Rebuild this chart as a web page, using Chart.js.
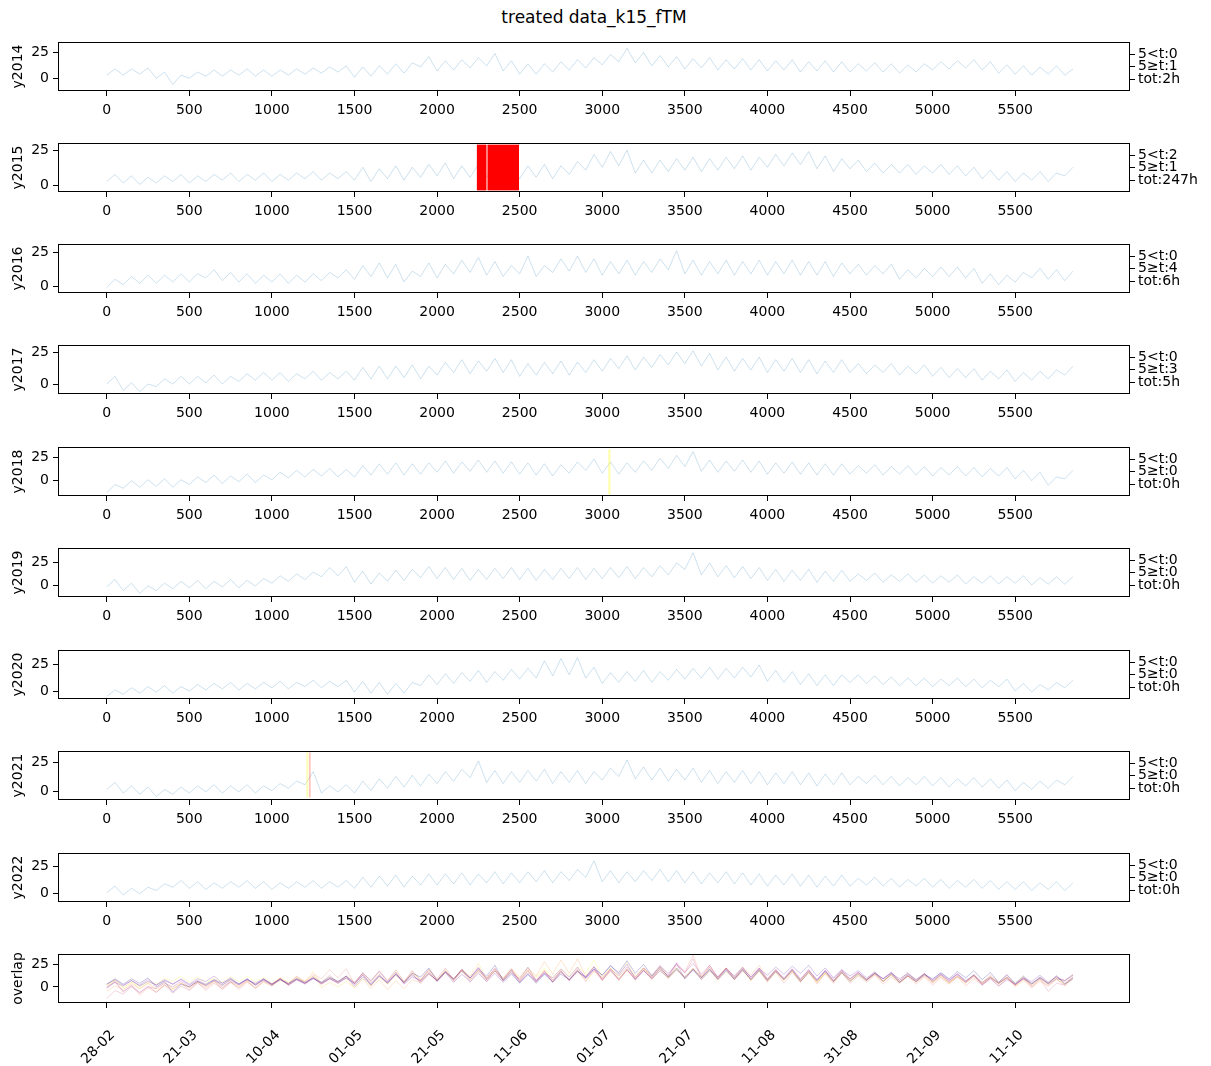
<!DOCTYPE html>
<html>
<head>
<meta charset="utf-8">
<script src="https://cdn.jsdelivr.net/npm/chart.js@4.4.1/dist/chart.umd.min.js"></script>
<style>
  body { margin: 0; background: #fff; }
  #fig { position: relative; width: 1211px; height: 1066px; overflow: hidden; background: #fff; }
  #title { position: absolute; top: 7px; left: 594px; transform: translateX(-50%); font: 17px "DejaVu Sans"; white-space: nowrap; color: #000; }
  canvas { position: absolute; left: 0; }
</style>
</head>
<body>
<div id="fig"><div id="title">treated data_k15_fTM</div></div>
<script>
// temperature readings, alternating daily low / high, one value every 50 h of the hourly index
const step = 50;
const t2014 = [3,9,3,9,4,10,0,6,-6,3,0,6,2,8,2,8,3,9,2,8, 2,8,3,9,4,10,5,11,6,12,1,11,2,12,4,14,5,15,11,21, 7,17,8,18,10,20,12,24,7,17,4,14,4,14,6,16,8,18,10,20, 13,23,16,29,15,25,12,22,11,21,9,19,10,20,8,18,9,19,8,18, 7,17,8,18,6,16,7,17,6,16,6,14,7,15,6,14,5,13,6,14, 8,16,9,17,10,18,8,16,5,13,4,12,3,11,4,12,3,9];
const t2015 = [3,8,2,7,1,6,2,7,3,8,2,7,3,8,4,9,3,8,4,9, 3,8,4,9,5,10,4,9,5,10,4,13,3,12,5,14,4,13,6,15, 7,16,5,14,6,15,6,15,5,14,5,14,6,15,5,14,8,17,11,22, 13,24,14,25,9,18,9,18,10,19,11,20,10,19,11,20,12,21,11,20, 13,22,14,23,15,24,12,21,10,19,12,18,10,16,9,15,9,15,8,14, 9,15,8,14,7,13,5,11,4,10,3,9,4,10,3,9,7,13];
const t2016 = [-1,5,1,7,2,8,2,8,3,9,3,9,6,12,4,10,3,9,2,8, 3,9,2,8,3,9,4,10,6,12,5,15,7,17,6,16,3,11,7,17, 6,16,9,19,10,21,8,18,7,15,9,22,7,15,10,20,11,22,10,20, 8,18,9,19,8,18,10,20,12,26,9,19,8,18,9,19,8,18,9,19, 8,18,9,19,8,18,8,18,7,17,9,16,8,15,9,16,5,12,6,13, 7,14,7,14,6,13,2,9,1,8,3,10,6,13,5,12,4,11];
const t2017 = [0,6,-5,1,-6,0,-2,4,0,6,0,6,1,7,0,6,2,8,3,9, 3,9,2,8,4,10,3,9,4,10,3,13,4,14,4,14,5,15,4,14, 7,17,9,19,8,18,10,20,9,19,6,16,7,17,8,18,7,17,9,19, 10,20,12,22,11,21,13,23,15,25,16,26,14,24,11,21,10,20,11,21, 9,19,10,20,9,19,8,18,9,19,9,16,8,15,9,16,7,14,8,15, 6,13,5,12,5,12,3,10,4,11,2,9,3,10,4,11,7,14];
const t2018 = [-13,-4,-8,0,-7,1,-6,2,-7,1,-4,4,-2,6,-3,5,-1,7,-2,6, 1,9,3,11,4,12,5,13,4,12,4,16,6,18,7,19,6,18,7,19, 9,21,8,20,10,22,9,21,8,20,7,19,6,18,5,17,8,20,11,23, 8,20,7,19,9,21,11,24,13,27,15,31,10,22,9,21,10,22,9,21, 7,19,8,20,7,19,6,18,6,18,7,16,8,17,6,15,7,16,6,15, 5,14,6,15,5,14,4,13,5,14,2,11,0,9,-5,4,2,11];
const t2019 = [-2,6,-6,2,-9,-1,-6,2,-4,4,-3,5,-4,4,-2,6,-3,5,-1,7, 2,10,4,12,6,14,9,19,10,20,3,15,1,13,4,16,5,17,8,20, 7,19,6,18,5,17,6,18,7,19,6,18,5,17,6,18,7,19,6,18, 7,19,8,20,7,19,9,21,11,24,17,35,11,24,9,21,8,20,7,19, 5,17,4,16,5,17,3,15,4,16,4,12,5,13,3,11,4,12,3,11, 2,10,3,11,1,9,2,10,1,9,2,10,0,8,1,9,1,9];
const t2020 = [-5,1,-3,3,-2,4,-1,5,-2,4,0,6,1,7,2,8,1,7,2,8, 3,9,2,8,4,10,3,9,4,10,-1,9,-2,8,-3,7,-2,8,5,15, 6,16,7,17,9,19,8,18,10,20,11,21,12,28,14,30,15,31,12,22, 7,17,8,18,9,19,8,18,10,20,11,21,12,22,11,21,12,22,13,24, 9,19,8,18,6,16,5,15,5,15,8,15,7,14,6,13,5,12,5,12, 4,11,5,12,4,11,3,10,4,11,0,7,-1,6,1,8,3,10];
const t2021 = [2,8,-1,5,-2,4,-4,2,-2,4,-1,5,0,6,-1,5,0,6,-1,5, 1,7,3,9,6,17,-1,5,0,6,-1,9,1,11,3,13,4,14,5,15, 7,17,9,19,12,26,8,18,7,17,8,18,9,19,7,17,8,18,7,17, 10,20,13,27,11,21,10,20,9,19,10,20,8,18,7,17,8,18,7,17, 6,16,7,17,6,16,5,15,6,16,6,13,7,14,6,13,5,12,6,13, 5,12,4,11,5,12,4,11,3,10,1,8,2,9,3,10,6,13];
const t2022 = [1,7,-1,5,0,6,3,9,6,12,5,11,4,10,5,11,6,12,5,11, 4,10,5,11,6,12,5,11,6,12,5,15,6,16,7,17,6,16,8,18, 8,18,9,19,8,18,10,20,9,19,10,20,11,21,10,20,12,22,15,30, 11,21,10,20,11,21,12,22,11,21,10,20,9,19,10,20,9,19,8,18, 7,17,8,18,7,17,6,16,7,17,7,14,8,15,7,14,6,13,7,14, 6,13,5,12,6,13,5,12,4,11,4,11,3,10,4,11,3,10];

const years = ['y2014', 'y2015', 'y2016', 'y2017', 'y2018', 'y2019', 'y2020', 'y2021', 'y2022'];
const series = [t2014, t2015, t2016, t2017, t2018, t2019, t2020, t2021, t2022];

// gap statistics per year
const longGaps = [0, 2, 0, 0, 0, 0, 0, 0, 0];
const shortGaps = [1, 1, 4, 3, 0, 0, 0, 0, 0];
const gapHours = [2, 247, 6, 5, 0, 0, 0, 0, 0];

// gap markers: year index, from, to, low, high, kind
const gapSpans = [
  [1, 2241, 2496, -3.1, 28.8, 'edge'],
  [1, 2241, 2297, -3.1, 28.8, 'long'],
  [1, 2307, 2496, -3.1, 28.8, 'long'],
  [4, 3036, 3050, -14.6, 33.2, 'short'],
  [7, 1209, 1221, -4.7, 33.2, 'short'],
  [7, 1227, 1233, -4.7, 33.2, 'edge']
];

const hourTicks = [0, 500, 1000, 1500, 2000, 2500, 3000, 3500, 4000, 4500, 5000, 5500];
const dateLabels = ['28-02', '21-03', '10-04', '01-05', '21-05', '11-06', '01-07', '21-07', '11-08', '31-08', '21-09', '11-10'];
const valueTicks = [0, 25];
const yMin = [-12.4, -4.3, -5.1, -7.8, -16.3, -13, -7.4, -6.9, -7.4, -17.9];
const yMax = [35.2, 30, 30.9, 30.5, 35.9, 40.2, 38, 34.5, 37, 36.5];

const spanColors = { long: 'rgb(255,0,0)', edge: 'rgba(255,0,0,0.4)', short: 'rgba(255,255,0,0.3)' };
const plasma = ['#0d0887', '#4c02a1', '#7e03a8', '#a92395', '#cc4778', '#e56b5d', '#f89441', '#fdc328', '#f0f921'];

Chart.defaults.font.family = 'DejaVu Sans';
Chart.defaults.font.size = 14;
Chart.defaults.color = '#000';

const panelTops = [42, 143, 244, 345, 447, 548, 650, 751, 853, 954];
const panelH = 49;
const padTop = 14;

function toPoints(arr) {
  return arr.map((v, i) => ({ x: i * step, y: v }));
}

const framePlugin = {
  id: 'frame',
  afterDraw(chart) {
    const { ctx, chartArea: a } = chart;
    ctx.save();
    ctx.strokeStyle = '#000';
    ctx.lineWidth = 1;
    ctx.strokeRect(a.left + 0.5, a.top + 0.5, a.right - a.left - 1, a.bottom - a.top - 1);
    ctx.restore();
  }
};

const spanPlugin = {
  id: 'gapspans',
  afterDatasetsDraw(chart, args, opts) {
    const { ctx, scales: { x, y } } = chart;
    ctx.save();
    (opts.items || []).forEach(s => {
      const x0 = x.getPixelForValue(s[1]), x1 = x.getPixelForValue(s[2]);
      const y0 = y.getPixelForValue(s[4]), y1 = y.getPixelForValue(s[3]);
      ctx.fillStyle = spanColors[s[5]];
      ctx.fillRect(x0, y0, x1 - x0, y1 - y0);
    });
    ctx.restore();
  }
};

function tickGrid() {
  return { display: true, drawOnChartArea: false, drawTicks: true, tickLength: 5, tickColor: '#000', tickWidth: 1 };
}

function makePanel(k) {
  const overlap = k === 9;
  const bottomH = overlap ? 80 : 40;
  const cv = document.createElement('canvas');
  cv.width = 1211;
  cv.height = padTop + panelH + bottomH;
  cv.style.top = (panelTops[k] - padTop) + 'px';
  document.getElementById('fig').appendChild(cv);

  let datasets;
  if (overlap) {
    datasets = series.map((s, i) => ({
      data: toPoints(s),
      borderColor: plasma[i] + '66',
      borderWidth: 0.6
    }));
  } else {
    datasets = [{
      data: toPoints(series[k]),
      borderColor: 'rgba(31,119,180,0.38)',
      borderWidth: 0.6
    }];
  }

  const scales = {
    x: {
      type: 'linear',
      min: -295,
      max: 6195,
      grid: tickGrid(),
      border: { display: false },
      afterBuildTicks: s => { s.ticks = hourTicks.map(v => ({ value: v })); },
      afterFit: s => { s.height = bottomH; },
      ticks: {
        autoSkip: false,
        padding: overlap ? 19 : 6,
        labelOffset: overlap ? 6 : 0,
        maxRotation: overlap ? 45 : 0,
        minRotation: overlap ? 45 : 0,
        callback: (v, i) => overlap ? dateLabels[i] : String(hourTicks[i])
      }
    },
    y: {
      type: 'linear',
      position: 'left',
      min: yMin[k],
      max: yMax[k],
      grid: tickGrid(),
      border: { display: false },
      afterBuildTicks: s => { s.ticks = valueTicks.map(v => ({ value: v })); },
      afterFit: s => { s.width = 58; },
      ticks: { autoSkip: false, padding: 4, callback: (v, i) => String(valueTicks[i]) },
      title: { display: true, text: overlap ? 'overlap' : years[k], padding: { top: 10, bottom: 0 }, font: { size: 14 } }
    }
  };

  if (!overlap) {
    const stats = ['tot:' + gapHours[k] + 'h', '5≥t:' + shortGaps[k], '5<t:' + longGaps[k]];
    scales.r = {
      type: 'linear',
      position: 'right',
      min: 0,
      max: 1,
      grid: tickGrid(),
      border: { display: false },
      afterBuildTicks: s => { s.ticks = [0.24, 0.5, 0.75].map(v => ({ value: v })); },
      afterFit: s => { s.width = 81; },
      ticks: { autoSkip: false, padding: 3, callback: (v, i) => stats[i] }
    };
  } else {
    scales.r = {
      type: 'linear', position: 'right', display: true,
      grid: { display: false }, border: { display: false },
      ticks: { display: false },
      afterFit: s => { s.width = 81; }
    };
  }

  new Chart(cv, {
    type: 'line',
    data: { datasets },
    options: {
      responsive: false,
      animation: false,
      devicePixelRatio: 1,
      parsing: false,
      normalized: true,
      layout: { padding: { top: padTop, left: 0, right: 0, bottom: 0 } },
      elements: { point: { radius: 0 }, line: { tension: 0 } },
      plugins: {
        legend: { display: false },
        tooltip: { enabled: false },
        gapspans: { items: gapSpans.filter(s => s[0] === k) }
      },
      scales
    },
    plugins: [spanPlugin, framePlugin]
  });
}

for (let k = 0; k < 10; k++) makePanel(k);
</script>
</body>
</html>
